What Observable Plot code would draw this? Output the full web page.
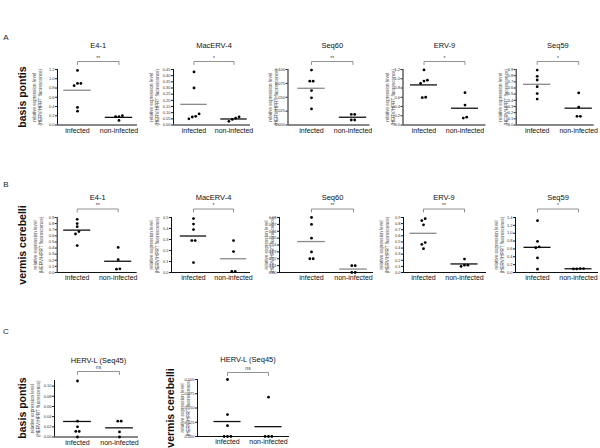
<!DOCTYPE html>
<html><head><meta charset="utf-8">
<script src="https://cdn.jsdelivr.net/npm/d3@7"></script>
<script src="https://cdn.jsdelivr.net/npm/@observablehq/plot@0.6"></script>
<style>
body{margin:0;background:#fff;}
#root{position:relative;width:600px;height:448px;overflow:hidden;font-family:"Liberation Sans",Arial,sans-serif;background:#fff;}
.panel{position:absolute;}
.letter{position:absolute;font-size:8px;color:#222;transform:translate(-50%,-50%);}
.rowlab{position:absolute;font-weight:bold;font-size:10.5px;white-space:nowrap;transform:translate(-50%,-50%) rotate(-90deg);color:#111;}
</style></head><body><div id="root"></div>
<script>
// ---------- data ----------
const categories = ["infected", "non-infected"];
const yAxisLabelLines = ["relative expression level", "(HERV/HPRT fluorescence)"];
const sectionLetters = ["A", "B", "C"];
const regionLabels = ["basis pontis", "vermis cerebelli"];
const rowTitles = ["E4-1", "MacERV-4", "Seq60", "ERV-9", "Seq59"];
const herlTitle = "HERV-L (Seq45)";

// significance marks
const sigPontis = ["**", "*", "**", "*", "*"];
const sigVermis = ["**", "*", "**", "**", "*"];
const sigHervL = ["ns", "ns"];

// A: basis pontis
const pontisE41Inf = [1.18, 0.90, 0.85, 0.90, 0.38, 0.30];
const pontisE41Non = [0.18, 0.20, 0.18, 0.10];
const pontisMacInf = [0.43, 0.30, 0.09, 0.07, 0.065, 0.05];
const pontisMacNon = [0.065, 0.055, 0.045, 0.03];
const pontisSeq60Inf = [0.099, 0.079, 0.079, 0.062, 0.049, 0.029];
const pontisSeq60Non = [0.019, 0.019, 0.009, 0.009];
const pontisErv9Inf = [1.19, 0.95, 0.90, 0.97, 0.60, 0.59];
const pontisErv9Non = [0.70, 0.43, 0.15, 0.17];
const pontisSeq59Inf = [0.89, 0.79, 0.73, 0.62, 0.51, 0.42];
const pontisSeq59Non = [0.52, 0.29, 0.14, 0.14];

// B: vermis cerebelli
const vermisE41Inf = [0.87, 0.80, 0.75, 0.67, 0.63, 0.44];
const vermisE41Non = [0.41, 0.21, 0.055, 0.06];
const vermisMacInf = [0.49, 0.44, 0.39, 0.29, 0.29, 0.09];
const vermisMacNon = [0.29, 0.19, 0.01, 0.01];
const vermisSeq60Inf = [0.08, 0.07, 0.05, 0.03, 0.02, 0.02];
const vermisSeq60Non = [0.01, 0.01, 0.0, 0.0];
const vermisErv9Inf = [0.88, 0.85, 0.78, 0.49, 0.46, 0.39];
const vermisErv9Non = [0.22, 0.12, 0.10, 0.12];
const vermisSeq59Inf = [1.32, 0.79, 0.63, 0.65, 0.37, 0.085];
const vermisSeq59Non = [0.10, 0.09, 0.09, 0.10];

// C: HERV-L (Seq45)
const pontisHervLInf = [0.110, 0.031, 0.020, 0.011, 0.011, 0.0];
const pontisHervLNon = [0.031, 0.031, 0.010, 0.0];
const vermisHervLInf = [0.100, 0.0385, 0.019, 0.0, 0.0, 0.0];
const vermisHervLNon = [0.069, 0.0, 0.0, 0.0];

// tick labels
const ticks12 = ["0.0","0.2","0.4","0.6","0.8","1.0","1.2"];
const ticks045 = ["0.00","0.05","0.10","0.15","0.20","0.25","0.30","0.35","0.40","0.45"];
const ticks0100 = ["0.000","0.025","0.050","0.075","0.100"];
const ticks09 = ["0.0","0.1","0.2","0.3","0.4","0.5","0.6","0.7","0.8","0.9"];
const ticks05 = ["0.0","0.1","0.2","0.3","0.4","0.5"];
const ticks008 = ["0.00","0.01","0.02","0.03","0.04","0.05","0.06","0.07","0.08"];
const ticks14 = ["0.0","0.2","0.4","0.6","0.8","1.0","1.2","1.4"];
const ticks010 = ["0.00","0.02","0.04","0.06","0.08","0.10"];

// ---------- layout ----------
const root = document.getElementById("root");
const FONT = '"Liberation Sans", Arial, sans-serif';
const K = "#111", G = "#8a8a8a";

function panel(cfg) {
  const {L, R, c1, c2, top, bottom, yMax, tickLabels, inf, non, title, sig,
         titleY, bracketY, sigY, labOff, colors} = cfg;
  const k = c2 - c1;
  const xDomain = [1 - (c1 - L) / k, 2 + (R - c2) / k];
  const pxPerY = (bottom - top) / yMax;
  const yAt = py => (bottom - py) / pxPerY;
  const mL = labOff + 8, mR = 8, mT = top - titleY + 8, mB = 14;
  const W = (R - L) + mL + mR, H = (bottom - top) + mT + mB;
  const ticks = tickLabels.map(Number);
  const tickMap = new Map(ticks.map((t, i) => [t, tickLabels[i]]));
  const pts = [];
  [inf, non].forEach((vals, ci) => {
    const sorted = vals.slice().sort((a, b) => a - b);
    let cl = [];
    const flush = () => {
      const n = cl.length;
      cl.forEach((v, j) => pts.push({x: ci + 1 + (j - (n - 1) / 2) * 3.4 / k, y: v}));
      cl = [];
    };
    sorted.forEach(v => {
      if (cl.length && (v - cl[cl.length - 1]) * pxPerY > 3) flush();
      cl.push(v);
    });
    flush();
  });
  const hw = 0.33;
  const mInf = [{c: 1, m: d3.mean(inf)}], mNon = [{c: 2, m: d3.mean(non)}];
  const bY = yAt(bracketY), bY2 = yAt(bracketY + 3);
  const bracket = [{x: 1, y: bY2}, {x: 1, y: bY}, {x: 2, y: bY}, {x: 2, y: bY2}];
  const labelData = yAxisLabelLines.map(t => ({x: xDomain[0], y: yMax / 2, t}));
  const svg = Plot.plot({
    width: W, height: H, marginLeft: mL, marginRight: mR, marginTop: mT, marginBottom: mB,
    x: {domain: xDomain, axis: null}, y: {domain: [0, yMax], axis: null},
    style: {background: "transparent", overflow: "visible", fontFamily: FONT, color: "#222"},
    marks: [
      Plot.axisY({ticks, tickFormat: d => tickMap.get(d), tickSize: 2, tickPadding: 1, fontSize: 4, label: null, fill: "#333", stroke: "#222"}),
      Plot.ruleX([xDomain[0]], {stroke: K, strokeWidth: 1}),
      Plot.ruleY([0], {stroke: K, strokeWidth: 1}),
      Plot.axisX({ticks: [1, 2], tickFormat: d => categories[d - 1], tickSize: 0, tickPadding: 3, fontSize: 7, label: null, fill: "#111"}),
      Plot.ruleY(mInf, {y: "m", x1: d => d.c - hw, x2: d => d.c + hw, stroke: colors[0], strokeWidth: 1.3}),
      Plot.ruleY(mNon, {y: "m", x1: d => d.c - hw, x2: d => d.c + hw, stroke: colors[1], strokeWidth: 1.3}),
      Plot.dot(pts, {x: "x", y: "y", r: 1.4, fill: "#000", stroke: null}),
      Plot.line(bracket, {x: "x", y: "y", stroke: "#777", strokeWidth: 0.8}),
      Plot.text([sig], {x: () => 1.5, y: () => yAt(sigY), text: d => d, fontSize: 5, fill: "#333"}),
      Plot.text([title], {x: () => 1.5, y: () => yAt(titleY), text: d => d, fontSize: 7.5, fill: "#111"}),
      Plot.text([labelData[0]], {x: "x", y: "y", text: "t", dx: -labOff - 2.7, rotate: -90, fontSize: 4.6, fill: "#444"}),
      Plot.text([labelData[1]], {x: "x", y: "y", text: "t", dx: -labOff + 2.7, rotate: -90, fontSize: 4.6, fill: "#444"})
    ]
  });
  const div = document.createElement("div");
  div.className = "panel";
  div.style.left = (L - mL) + "px";
  div.style.top = (top - mT) + "px";
  div.style.width = W + "px";
  div.style.height = H + "px";
  div.appendChild(svg);
  root.appendChild(div);
}

const rowA = {top: 69, bottom: 124.5, titleY: 45, bracketY: 61, sigY: 57.5};
const rowB = {top: 217, bottom: 272, titleY: 197, bracketY: 208.5, sigY: 205};

panel({...rowA, L: 57, R: 137, c1: 77, c2: 118.5, yMax: 1.2, tickLabels: ticks12, inf: pontisE41Inf, non: pontisE41Non, title: rowTitles[0], sig: sigPontis[0], labOff: 20, colors: [G, K]});
panel({...rowA, L: 173, R: 250, c1: 193.5, c2: 233.5, yMax: 0.45, tickLabels: ticks045, inf: pontisMacInf, non: pontisMacNon, title: rowTitles[1], sig: sigPontis[1], labOff: 19, colors: [G, K]});
panel({...rowA, L: 287, R: 369, c1: 310.5, c2: 352, yMax: 0.1, tickLabels: ticks0100, inf: pontisSeq60Inf, non: pontisSeq60Non, title: rowTitles[2], sig: sigPontis[2], labOff: 14.5, colors: [G, K]});
panel({...rowA, L: 402, R: 485, c1: 423, c2: 464, yMax: 1.2, tickLabels: ticks12, inf: pontisErv9Inf, non: pontisErv9Non, title: rowTitles[3], sig: sigPontis[3], labOff: 12.5, colors: [K, K]});
panel({...rowA, L: 516, R: 594, c1: 537, c2: 578.5, yMax: 0.9, tickLabels: ticks09, inf: pontisSeq59Inf, non: pontisSeq59Non, title: rowTitles[4], sig: sigPontis[4], labOff: 12.7, colors: [G, K]});

panel({...rowB, L: 57, R: 137, c1: 77, c2: 118, yMax: 0.9, tickLabels: ticks09, inf: vermisE41Inf, non: vermisE41Non, title: rowTitles[0], sig: sigVermis[0], labOff: 18.7, colors: [K, K]});
panel({...rowB, L: 171, R: 250, c1: 193, c2: 233, yMax: 0.5, tickLabels: ticks05, inf: vermisMacInf, non: vermisMacNon, title: rowTitles[1], sig: sigVermis[1], labOff: 17, colors: [K, G]});
panel({...rowB, L: 279, R: 373, c1: 311, c2: 353, yMax: 0.08, tickLabels: ticks008, inf: vermisSeq60Inf, non: vermisSeq60Non, title: rowTitles[2], sig: sigVermis[2], labOff: 10, colors: [G, G]});
panel({...rowB, L: 403, R: 486, c1: 423, c2: 464, yMax: 0.9, tickLabels: ticks09, inf: vermisErv9Inf, non: vermisErv9Non, title: rowTitles[3], sig: sigVermis[3], labOff: 19, colors: [G, K]});
panel({...rowB, L: 515, R: 598, c1: 537, c2: 578, yMax: 1.4, tickLabels: ticks14, inf: vermisSeq59Inf, non: vermisSeq59Non, title: rowTitles[4], sig: sigVermis[4], labOff: 16, colors: [K, K]});

panel({top: 380, bottom: 436.5, titleY: 360, bracketY: 371, sigY: 367, L: 54, R: 138, c1: 77, c2: 119, yMax: 0.111, tickLabels: ticks010, inf: pontisHervLInf, non: pontisHervLNon, title: herlTitle, sig: sigHervL[0], labOff: 19, colors: [K, K]});
panel({top: 379, bottom: 436, titleY: 359, bracketY: 372, sigY: 368, L: 197, R: 289, c1: 227, c2: 268, yMax: 0.1, tickLabels: ticks0100, inf: vermisHervLInf, non: vermisHervLNon, title: herlTitle, sig: sigHervL[1], labOff: 12, colors: [K, K]});

// section letters and region labels
function addDiv(cls, text, x, y) {
  const d = document.createElement("div");
  d.className = cls; d.textContent = text;
  d.style.left = x + "px"; d.style.top = y + "px";
  root.appendChild(d);
}
addDiv("letter", sectionLetters[0], 6, 37);
addDiv("letter", sectionLetters[1], 6, 184);
addDiv("letter", sectionLetters[2], 6, 331);
addDiv("rowlab", regionLabels[0], 22, 96.5);
addDiv("rowlab", regionLabels[1], 22, 244.5);
addDiv("rowlab", regionLabels[0], 22, 408);
addDiv("rowlab", regionLabels[1], 170, 408);
</script></body></html>
